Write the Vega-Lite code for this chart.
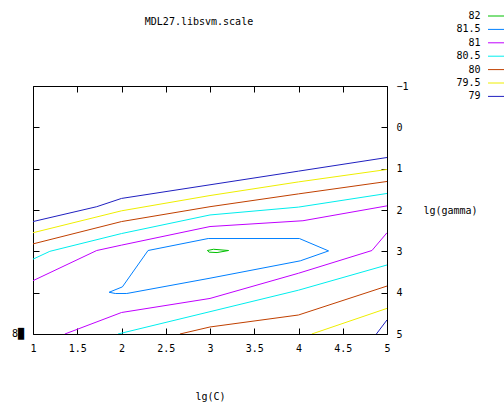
{
  "$schema": "https://vega.github.io/schema/vega-lite/v6.json",
  "width": 354,
  "height": 248,
  "autosize": "none",
  "padding": {"left": 33, "top": 86, "right": 117, "bottom": 68},
  "background": "white",
  "config": {
    "view": {"stroke": "black", "strokeWidth": 1},
    "font": "DejaVu Sans Mono",
    "axis": {
      "domain": false, "grid": false, "tickColor": "black", "tickSize": -6, "tickWidth": 1,
      "labelFont": "DejaVu Sans Mono", "labelFontSize": 10, "labelColor": "black",
      "titleFont": "DejaVu Sans Mono", "titleFontSize": 10, "titleFontWeight": "normal", "titleColor": "black"
    },
    "legend": {
      "labelFont": "DejaVu Sans Mono", "labelFontSize": 10, "labelColor": "black"
    }
  },
  "title": {
    "text": "MDL27.libsvm.scale",
    "font": "DejaVu Sans Mono", "fontSize": 10, "fontWeight": "normal", "color": "black",
    "anchor": "middle", "dx": -11, "offset": 0, "dy": 16
  },
  "data": {"values": [
    {"lvl": "79", "seg": "79a", "o": 1, "x": 1, "y": 2.28},
    {"lvl": "79", "seg": "79a", "o": 2, "x": 1.72, "y": 1.92},
    {"lvl": "79", "seg": "79a", "o": 3, "x": 2, "y": 1.72},
    {"lvl": "79", "seg": "79a", "o": 4, "x": 3, "y": 1.39},
    {"lvl": "79", "seg": "79a", "o": 5, "x": 4, "y": 1.06},
    {"lvl": "79", "seg": "79a", "o": 6, "x": 5, "y": 0.73},
    {"lvl": "79", "seg": "79b", "o": 1, "x": 4.88, "y": 5},
    {"lvl": "79", "seg": "79b", "o": 2, "x": 5, "y": 4.66},
    {"lvl": "79.5", "seg": "795a", "o": 1, "x": 1, "y": 2.55},
    {"lvl": "79.5", "seg": "795a", "o": 2, "x": 2, "y": 2.02},
    {"lvl": "79.5", "seg": "795a", "o": 3, "x": 3, "y": 1.65},
    {"lvl": "79.5", "seg": "795a", "o": 4, "x": 4, "y": 1.32},
    {"lvl": "79.5", "seg": "795a", "o": 5, "x": 5, "y": 1.02},
    {"lvl": "79.5", "seg": "795b", "o": 1, "x": 4.15, "y": 5},
    {"lvl": "79.5", "seg": "795b", "o": 2, "x": 5, "y": 4.38},
    {"lvl": "80", "seg": "80a", "o": 1, "x": 1, "y": 2.82},
    {"lvl": "80", "seg": "80a", "o": 2, "x": 2, "y": 2.28},
    {"lvl": "80", "seg": "80a", "o": 3, "x": 3, "y": 1.92},
    {"lvl": "80", "seg": "80a", "o": 4, "x": 4, "y": 1.61},
    {"lvl": "80", "seg": "80a", "o": 5, "x": 5, "y": 1.31},
    {"lvl": "80", "seg": "80b", "o": 1, "x": 2.66, "y": 5},
    {"lvl": "80", "seg": "80b", "o": 2, "x": 3, "y": 4.83},
    {"lvl": "80", "seg": "80b", "o": 3, "x": 4, "y": 4.54},
    {"lvl": "80", "seg": "80b", "o": 4, "x": 5, "y": 3.84},
    {"lvl": "80.5", "seg": "805a", "o": 1, "x": 1, "y": 3.19},
    {"lvl": "80.5", "seg": "805a", "o": 2, "x": 1.19, "y": 3.0},
    {"lvl": "80.5", "seg": "805a", "o": 3, "x": 2, "y": 2.57},
    {"lvl": "80.5", "seg": "805a", "o": 4, "x": 3, "y": 2.12},
    {"lvl": "80.5", "seg": "805a", "o": 5, "x": 4, "y": 1.93},
    {"lvl": "80.5", "seg": "805a", "o": 6, "x": 5, "y": 1.6},
    {"lvl": "80.5", "seg": "805b", "o": 1, "x": 1.96, "y": 5},
    {"lvl": "80.5", "seg": "805b", "o": 2, "x": 3, "y": 4.46},
    {"lvl": "80.5", "seg": "805b", "o": 3, "x": 4, "y": 3.94},
    {"lvl": "80.5", "seg": "805b", "o": 4, "x": 5, "y": 3.33},
    {"lvl": "81", "seg": "81a", "o": 1, "x": 1, "y": 3.71},
    {"lvl": "81", "seg": "81a", "o": 2, "x": 1.72, "y": 2.98},
    {"lvl": "81", "seg": "81a", "o": 3, "x": 2, "y": 2.85},
    {"lvl": "81", "seg": "81a", "o": 4, "x": 3, "y": 2.4},
    {"lvl": "81", "seg": "81a", "o": 5, "x": 4.05, "y": 2.26},
    {"lvl": "81", "seg": "81a", "o": 6, "x": 5, "y": 1.9},
    {"lvl": "81", "seg": "81b", "o": 1, "x": 1.36, "y": 5},
    {"lvl": "81", "seg": "81b", "o": 2, "x": 2, "y": 4.48},
    {"lvl": "81", "seg": "81b", "o": 3, "x": 3, "y": 4.14},
    {"lvl": "81", "seg": "81b", "o": 4, "x": 4, "y": 3.53},
    {"lvl": "81", "seg": "81b", "o": 5, "x": 4.83, "y": 2.98},
    {"lvl": "81", "seg": "81b", "o": 6, "x": 5, "y": 2.55},
    {"lvl": "81.5", "seg": "815a", "o": 1, "x": 2.3, "y": 2.98},
    {"lvl": "81.5", "seg": "815a", "o": 2, "x": 2.98, "y": 2.69},
    {"lvl": "81.5", "seg": "815a", "o": 3, "x": 4.01, "y": 2.69},
    {"lvl": "81.5", "seg": "815a", "o": 4, "x": 4.34, "y": 2.99},
    {"lvl": "81.5", "seg": "815a", "o": 5, "x": 4.02, "y": 3.23},
    {"lvl": "81.5", "seg": "815a", "o": 6, "x": 3, "y": 3.65},
    {"lvl": "81.5", "seg": "815a", "o": 7, "x": 2.06, "y": 4.02},
    {"lvl": "81.5", "seg": "815a", "o": 8, "x": 1.93, "y": 4.02},
    {"lvl": "81.5", "seg": "815a", "o": 9, "x": 1.86, "y": 3.99},
    {"lvl": "81.5", "seg": "815a", "o": 10, "x": 2.01, "y": 3.86},
    {"lvl": "81.5", "seg": "815a", "o": 11, "x": 2.3, "y": 2.98},
    {"lvl": "82", "seg": "82a", "o": 1, "x": 2.97, "y": 2.98},
    {"lvl": "82", "seg": "82a", "o": 2, "x": 3.04, "y": 2.95},
    {"lvl": "82", "seg": "82a", "o": 3, "x": 3.21, "y": 2.98},
    {"lvl": "82", "seg": "82a", "o": 4, "x": 3.08, "y": 3.03},
    {"lvl": "82", "seg": "82a", "o": 5, "x": 2.99, "y": 3.02},
    {"lvl": "82", "seg": "82a", "o": 6, "x": 2.97, "y": 2.98}
  ]},
  "layer": [
    {
      "mark": {"type": "line", "strokeWidth": 1, "clip": true},
      "encoding": {
        "x": {"field": "x", "type": "quantitative",
          "scale": {"domain": [1, 5], "nice": false, "zero": false},
          "axis": {"orient": "bottom", "values": [1, 1.5, 2, 2.5, 3, 3.5, 4, 4.5, 5], "format": "~g", "title": "lg(C)", "labelPadding": 15, "labelFlush": false, "titleY": 62, "titleBaseline": "middle", "titleAnchor": "middle"}},
        "y": {"field": "y", "type": "quantitative",
          "scale": {"domain": [-1, 5], "nice": false, "zero": false, "reverse": true},
          "axis": {"orient": "right", "values": [-1, 0, 1, 2, 3, 4, 5], "title": "lg(gamma)", "labelPadding": 15, "labelFlush": false, "titleAngle": 0, "titleX": 63, "titleY": 124, "titleAlign": "center", "titleBaseline": "middle"}},
        "color": {"field": "lvl", "type": "nominal",
          "scale": {"domain": ["82", "81.5", "81", "80.5", "80", "79.5", "79"],
                    "range": ["#00c000", "#0080ff", "#c000ff", "#00eeee", "#c04000", "#eeee00", "#2020c0"]},
          "legend": {"title": null, "orient": "none", "legendX": 458.5, "legendY": -75, "padding": 0,
            "symbolType": "M-2.125,0H2.125", "symbolSize": 64, "symbolStrokeWidth": 1,
            "labelAlign": "right", "labelOffset": -21, "rowPadding": 3.4}},
        "detail": {"field": "seg"},
        "order": {"field": "o"}
      }
    },
    {
      "data": {"values": [{"x": 1, "y": 5, "t": "8█"}]},
      "mark": {"type": "text", "dx": -15, "fontSize": 10, "font": "DejaVu Sans Mono", "color": "black", "baseline": "middle"},
      "encoding": {
        "x": {"field": "x", "type": "quantitative",
          "axis": {"orient": "top", "values": [1, 1.5, 2, 2.5, 3, 3.5, 4, 4.5, 5], "labels": false, "title": null}},
        "y": {"field": "y", "type": "quantitative",
          "axis": {"orient": "left", "values": [-1, 0, 1, 2, 3, 4, 5], "labels": false, "title": null}},
        "text": {"field": "t"}
      }
    }
  ],
  "resolve": {"axis": {"x": "independent", "y": "independent"}}
}
